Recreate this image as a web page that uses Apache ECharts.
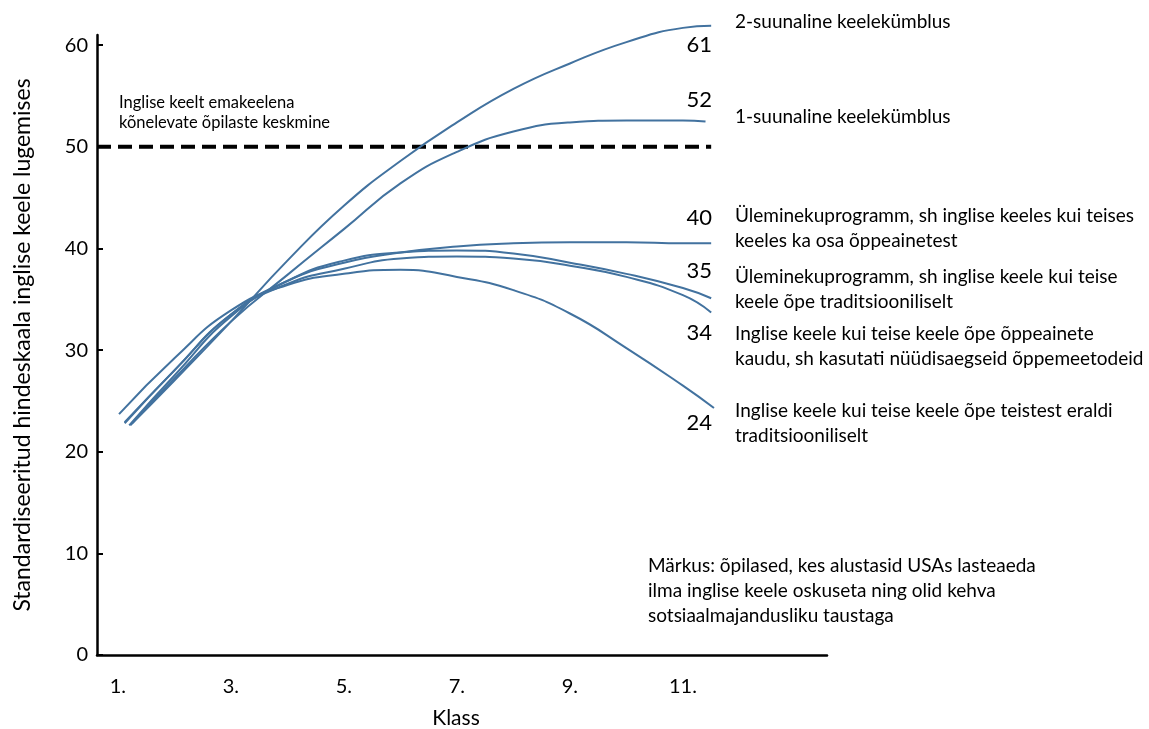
<!DOCTYPE html>
<html>
<head>
<meta charset="utf-8">
<script src="https://cdn.jsdelivr.net/npm/echarts@6/dist/echarts.min.js"></script>
<style>
html,body{margin:0;padding:0;background:#fff;}
#c{width:1149px;height:729px;}
</style>
</head>
<body>
<div id="c"></div>
<script>
// ---- data ----
const xTickLabels = [1, 3, 5, 7, 9, 11];
const yTickLabels = [0, 10, 20, 30, 40, 50, 60];
const seriesNames = [
  '2-suunaline keelekümblus',
  '1-suunaline keelekümblus',
  'Üleminekuprogramm, sh inglise keeles kui teises keeles ka osa õppeainetest',
  'Üleminekuprogramm, sh inglise keele kui teise keele õpe traditsiooniliselt',
  'Inglise keele kui teise keele õpe õppeainete kaudu, sh kasutati nüüdisaegseid õppemeetodeid',
  'Inglise keele kui teise keele õpe teistest eraldi traditsiooniliselt'
];
const endValues = [61, 52, 40, 35, 34, 24];

const gradesTwoWay  = [1.22, 2, 3, 4, 5, 6, 7, 8, 9, 10, 11, 11.5];
const valuesTwoWay  = [22.6, 27.0, 32.8, 38.8, 44.2, 48.6, 52.4, 55.7, 58.2, 60.3, 61.7, 61.9];
const gradesOneWay  = [1.25, 2, 3, 4, 5, 6, 7, 8, 9, 10, 11, 11.4];
const valuesOneWay  = [22.8, 27.2, 32.8, 37.4, 41.9, 46.4, 49.5, 51.5, 52.4, 52.6, 52.6, 52.5];
const gradesTransA  = [1.12, 2, 3, 4, 5, 6, 7, 8, 9, 10, 11, 11.5];
const valuesTransA  = [22.8, 28.0, 33.5, 36.8, 38.6, 39.6, 40.2, 40.5, 40.6, 40.6, 40.5, 40.5];
const gradesTransB  = [1.2, 2, 3, 4, 5, 6, 7, 8, 9, 10, 11, 11.5];
const valuesTransB  = [22.6, 27.5, 33.3, 36.8, 38.8, 39.6, 39.8, 39.5, 38.6, 37.5, 36.1, 35.1];
const gradesContent = [1.12, 2, 3, 4, 5, 6, 7, 8, 9, 10, 11, 11.5];
const valuesContent = [22.9, 28.0, 33.5, 36.5, 38.0, 39.0, 39.2, 39.0, 38.3, 37.2, 35.4, 33.7];
const gradesPullout = [1.02, 2, 3, 4, 5, 6, 7, 8, 9, 10, 11, 11.55];
const valuesPullout = [23.7, 29.2, 33.9, 36.4, 37.5, 37.9, 37.2, 35.9, 33.6, 30.2, 26.5, 24.3];

const referenceValue = 50;
const referenceGrades = [0.63, 11.5];
const referenceLabel = ['Inglise keelt emakeelena', 'kõnelevate õpilaste keskmine'];
const noteLines = [
  'Märkus: õpilased, kes alustasid USAs lasteaeda',
  'ilma inglise keele oskuseta ning olid kehva',
  'sotsiaalmajandusliku taustaga'
];
const yTitle = 'Standardiseeritud hindeskaala inglise keele lugemises';
const xTitle = 'Klass';

// ---- build ----
const FONT = 'Lato';
const LINE = '#42729f';
const gradeSets = [gradesTwoWay, gradesOneWay, gradesTransA, gradesTransB, gradesContent, gradesPullout];
const valueSets = [valuesTwoWay, valuesOneWay, valuesTransA, valuesTransB, valuesContent, valuesPullout];

const series = gradeSets.map((g, i) => ({
  type: 'line',
  name: seriesNames[i],
  smooth: 0.5,
  symbol: 'none',
  clip: false,
  lineStyle: { color: LINE, width: 2 },
  data: g.map((x, j) => [x, valueSets[i][j]]),
  z: 3
}));
series.push({
  type: 'line',
  name: 'ref',
  symbol: 'none',
  lineStyle: { color: '#000', width: 4, type: [14, 7] },
  data: referenceGrades.map(x => [x, referenceValue]),
  z: 2
});

// layout of annotation texts (pixel positions)
const numPos = [[712, 45], [712, 100], [712, 218], [712, 271], [712, 333], [712, 423]];
const descLines = [
  ['2-suunaline keelekümblus'],
  ['1-suunaline keelekümblus'],
  ['Üleminekuprogramm, sh inglise keeles kui teises', 'keeles ka osa õppeainetest'],
  ['Üleminekuprogramm, sh inglise keele kui teise', 'keele õpe traditsiooniliselt'],
  ['Inglise keele kui teise keele õpe õppeainete', 'kaudu, sh kasutati nüüdisaegseid õppemeetodeid'],
  ['Inglise keele kui teise keele õpe teistest eraldi', 'traditsiooniliselt']
];
const descCenter = [22, 117, 216, 277, 334, 411];
const DLH = 24.5;

const graphic = [];
endValues.forEach((v, i) => {
  graphic.push({ type: 'text', x: numPos[i][0], y: numPos[i][1],
    style: { text: String(v), font: '22px ' + FONT, fill: '#000', align: 'right', verticalAlign: 'middle' } });
});
descLines.forEach((lines, i) => {
  graphic.push({ type: 'text', x: 735, y: descCenter[i] - DLH / 2,
    style: { text: lines.join('\n'), font: '19px ' + FONT, fill: '#000', lineHeight: DLH, verticalAlign: 'top' } });
});
graphic.push({ type: 'text', x: 119, y: 103 - 10,
  style: { text: referenceLabel.join('\n'), font: '16.5px ' + FONT, fill: '#000', lineHeight: 20, verticalAlign: 'top' } });
graphic.push({ type: 'text', x: 648, y: 566 - 12.5,
  style: { text: noteLines.join('\n'), font: '19px ' + FONT, fill: '#000', lineHeight: 25, verticalAlign: 'top' } });
graphic.push({ type: 'text', x: 456, y: 718,
  style: { text: xTitle, font: '21px ' + FONT, fill: '#000', align: 'center', verticalAlign: 'middle' } });

const chart = echarts.init(document.getElementById('c'), null, { renderer: 'canvas' });
chart.setOption({
  animation: false,
  backgroundColor: '#fff',
  grid: { left: 97, right: 322, top: 35, bottom: 74, containLabel: false },
  xAxis: {
    type: 'value', min: 0.63, max: 13.55,
    axisLine: { show: true, lineStyle: { color: '#000', width: 2.5 } },
    axisTick: { show: false },
    splitLine: { show: false },
    axisLabel: { customValues: xTickLabels, formatter: v => v + '.', color: '#000', fontSize: 20, fontFamily: FONT, margin: 22 }
  },
  yAxis: {
    type: 'value', min: 0, max: 61,
    name: yTitle, nameLocation: 'middle', nameGap: 63, nameRotate: 90,
    nameTextStyle: { fontSize: 23, fontFamily: FONT, color: '#000' },
    axisLine: { show: true, lineStyle: { color: '#000', width: 2.5 } },
    axisTick: { show: true, inside: true, length: 6, customValues: yTickLabels, lineStyle: { color: '#000', width: 2 } },
    splitLine: { show: false },
    axisLabel: { customValues: yTickLabels, color: '#000', fontSize: 20, fontFamily: FONT, margin: 9 }
  },
  series: series,
  graphic: graphic
});
</script>
</body>
</html>
